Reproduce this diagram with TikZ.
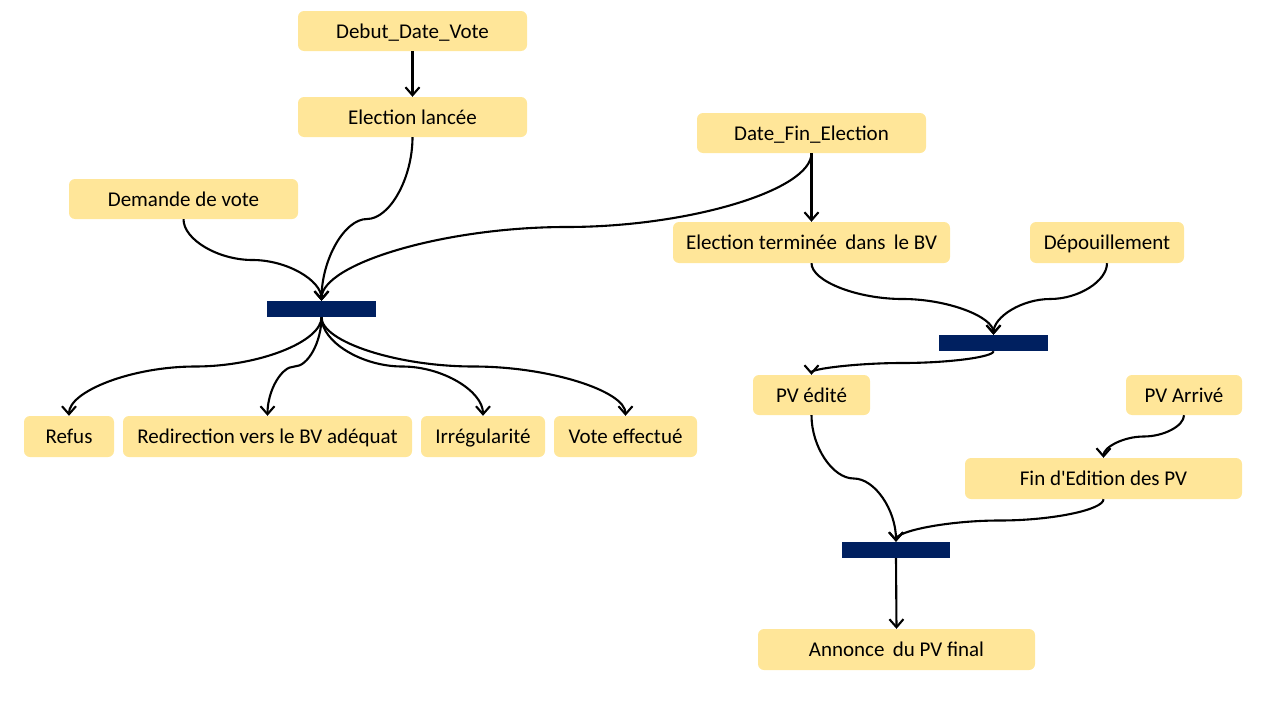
\documentclass[tikz,border=0pt]{standalone}
\usepackage{fontspec}
\setmainfont{Carlito}
\usetikzlibrary{arrows.meta,calc}
\definecolor{boxfill}{HTML}{FFE699}
\definecolor{barfill}{HTML}{002060}
\tikzset{
  box/.style={fill=boxfill, rounded corners=6pt, inner sep=0pt, font=\fontsize{21}{24}\selectfont, text=black, text height=15pt, text depth=1pt},
  bar/.style={fill=barfill, inner sep=0pt, minimum width=109pt, minimum height=16pt},
  conn/.style={draw=black, line width=2.1pt, -{Straight Barb[length=8pt,width=14pt,line width=2.1pt]}},
  curved connector/.style={to path={
    let \p1=(\tikztostart), \p2=(\tikztotarget) in
    .. controls (\x1,{0.75*\y1+0.25*\y2}) and ({0.75*\x1+0.25*\x2},{0.5*\y1+0.5*\y2}) ..
    ({0.5*\x1+0.5*\x2},{0.5*\y1+0.5*\y2})
    .. controls ({0.25*\x1+0.75*\x2},{0.5*\y1+0.5*\y2}) and (\x2,{0.25*\y1+0.75*\y2}) ..
    (\tikztotarget) \tikztonodes}},
}
\begin{document}
\begin{tikzpicture}[x=1pt,y=-1pt]
\useasboundingbox (0,0) rectangle (1280,720);
% boxes
\node[box, minimum width=229pt, minimum height=40pt] (debut) at (412.5,31) {Debut\_Date\_Vote};
\node[box, minimum width=229pt, minimum height=40pt] (lancee) at (412.5,117) {Election lancée};
\node[box, minimum width=229pt, minimum height=40pt] (datefin) at (811.5,133) {Date\_Fin\_Election};
\node[box, minimum width=229pt, minimum height=40pt] (demande) at (183.5,199) {Demande de vote};
\node[box, minimum width=277pt, minimum height=41pt] (terminee) at (811.5,242.5) {Election terminée\ \,dans\ \,le BV};
\node[box, minimum width=154pt, minimum height=41pt] (depouil) at (1107,242.5) {Dépouillement};
\node[bar] (bar1) at (321.5,309) {};
\node[bar] (bar2) at (993.5,343) {};
\node[box, minimum width=90pt, minimum height=41pt] (refus) at (69,436.5) {Refus};
\node[box, minimum width=289pt, minimum height=41pt] (redir) at (267.5,436.5) {Redirection vers le BV adéquat};
\node[box, minimum width=124pt, minimum height=41pt] (irreg) at (483,436.5) {Irrégularité};
\node[box, minimum width=143pt, minimum height=41pt] (vote) at (625.5,436.5) {Vote effectué};
\node[box, minimum width=117pt, minimum height=40pt] (pvedite) at (811.5,395) {PV édité};
\node[box, minimum width=116pt, minimum height=40pt] (pvarrive) at (1184,395) {PV Arrivé};
\node[box, minimum width=277pt, minimum height=41pt] (finedit) at (1103.5,478.5) {Fin d\textquotesingle Edition des PV};
\node[bar, minimum width=108pt] (bar3) at (896,550) {};
\node[box, minimum width=277pt, minimum height=41pt] (annonce) at (896.5,649.5) {Annonce\ \,du PV final};
% connectors
\draw[conn] (debut.south) -- (lancee.north);
\draw[conn] (datefin.south) -- (terminee.north);
\draw[conn] (bar3.south) -- (annonce.north);
\draw[conn] (lancee.south) to[curved connector] (bar1.north);
\draw[conn] (demande.south) to[curved connector] (bar1.north);
\draw[conn] (datefin.south) to[curved connector] (bar1.north);
\draw[conn] (bar1.south) to[curved connector] (refus.north);
\draw[conn] (bar1.south) to[curved connector] (redir.north);
\draw[conn] (bar1.south) to[curved connector] (irreg.north);
\draw[conn] (bar1.south) to[curved connector] (vote.north);
\draw[conn] (terminee.south) to[curved connector] (bar2.north);
\draw[conn] (depouil.south) to[curved connector] (bar2.north);
\draw[conn] (bar2.south) to[curved connector] (pvedite.north);
\draw[conn] (pvarrive.south) to[curved connector] (finedit.north);
\draw[conn] (pvedite.south) to[curved connector] (bar3.north);
\draw[conn] (finedit.south) to[curved connector] (bar3.north);
\end{tikzpicture}
\end{document}
